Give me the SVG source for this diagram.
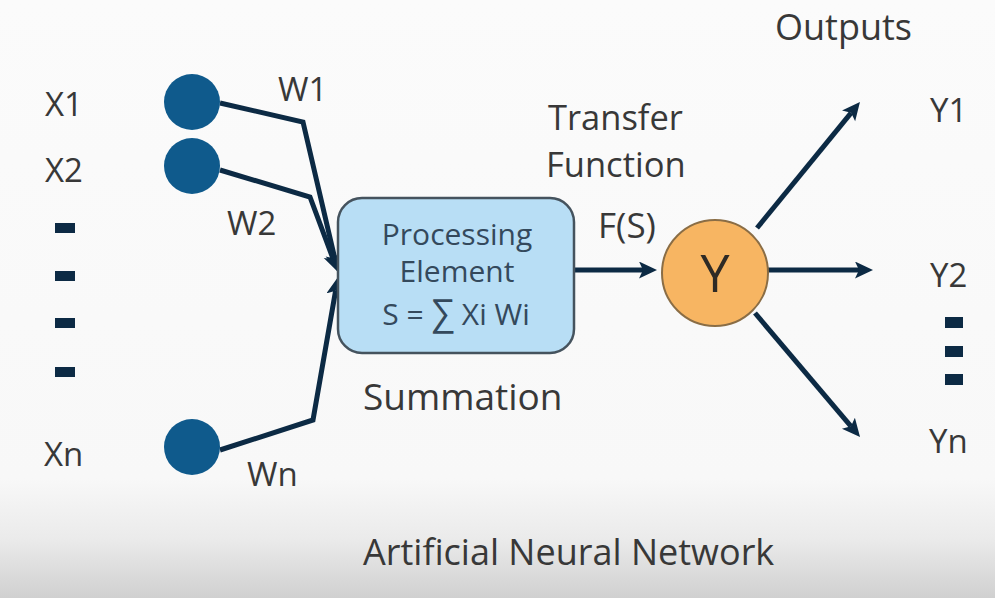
<svg xmlns="http://www.w3.org/2000/svg" width="995" height="598" viewBox="0 0 995 598">
<defs>
<linearGradient id="bg" x1="0" y1="0" x2="0" y2="1">
<stop offset="0" stop-color="#fbfbfb"/>
<stop offset="0.8" stop-color="#f8f8f8"/>
<stop offset="0.9" stop-color="#ebebeb"/>
<stop offset="1" stop-color="#d0d0d0"/>
</linearGradient>
<marker id="ah" markerUnits="userSpaceOnUse" markerWidth="20" markerHeight="18" refX="4" refY="8.5" orient="auto">
<path d="M0,0 L18,8.5 L0,17 L4,8.5 z" fill="#0c2a44"/>
</marker>
<style>
.lbl{font-family:"Open Sans","Noto Sans","Liberation Sans",sans-serif;font-size:33px;fill:#383838}
.big{font-size:35px}
.tf{font-size:34.5px}
.cap{font-size:36px}
.sum{font-size:37px}
.box{font-family:"Open Sans","Noto Sans","Liberation Sans",sans-serif;font-size:30px;fill:#34495c;text-anchor:middle}
.sig{font-size:36px}
.conn{fill:none;stroke:#0c2a44;stroke-width:5;stroke-linejoin:miter;marker-end:url(#ah)}
.in{fill:#0f5a8c}
.dash{fill:#0c2a44}
</style>
</defs>
<rect x="0" y="0" width="995" height="598" fill="url(#bg)"/>

<g id="connectors">
<path class="conn" d="M220,103 L303,122 L334.8,258.4"/>
<path class="conn" d="M220,170 L310,197 L333.1,258.9"/>
<path class="conn" d="M220,450 L313,420 L335.6,290.8"/>
<path class="conn" d="M574,270 L643,270"/>
<path class="conn" d="M757,228 L851.1,112.8"/>
<path class="conn" d="M768,270 L859,270"/>
<path class="conn" d="M755,313 L851,426.3"/>
</g>

<g id="x1"><circle class="in" cx="192" cy="102" r="28"/><text class="lbl" x="45" y="116">X1</text></g>
<g id="x2"><circle class="in" cx="192" cy="166" r="28"/><text class="lbl" x="45" y="182">X2</text></g>
<g id="xn"><circle class="in" cx="192" cy="447" r="28"/><text class="lbl" x="44" y="466">Xn</text></g>
<g id="input-dots">
<rect class="dash" x="55" y="223" width="20" height="10"/>
<rect class="dash" x="55" y="271" width="20" height="10"/>
<rect class="dash" x="55" y="318" width="20" height="10"/>
<rect class="dash" x="55" y="367" width="20" height="10"/>
</g>
<g id="weights">
<text class="lbl" x="278" y="101">W1</text>
<text class="lbl" x="227" y="235">W2</text>
<text class="lbl" x="247" y="486">Wn</text>
</g>

<g id="processing">
<rect x="338" y="198" width="236" height="155" rx="24" ry="24" fill="#b8def5" stroke="#45535e" stroke-width="2.5"/>
<text class="box" x="457" y="245">Processing</text>
<text class="box" x="457" y="282">Element</text>
<text class="box" x="456" y="325">S = <tspan class="sig">∑</tspan> Xi Wi</text>
</g>
<text class="lbl sum" x="363" y="410">Summation</text>

<g id="transfer">
<text class="lbl tf" x="548" y="130">Transfer</text>
<text class="lbl tf" x="546" y="177">Function</text>
<text class="lbl big" x="598" y="238">F(S)</text>
</g>

<g id="y">
<circle cx="715" cy="273" r="53" fill="#f7b562" stroke="#8a6d45" stroke-width="2"/>
<text x="715" y="292" text-anchor="middle" font-family="Open Sans, Noto Sans, Liberation Sans, sans-serif" font-size="52" fill="#2e2a25">Y</text>
</g>

<text class="lbl cap" x="775" y="40">Outputs</text>
<g id="y1"><text class="lbl" x="930" y="122">Y1</text></g>
<g id="y2"><text class="lbl" x="930" y="287">Y2</text></g>
<g id="yn"><text class="lbl" x="929" y="453">Yn</text></g>
<g id="output-dots">
<rect class="dash" x="945" y="317" width="18" height="11"/>
<rect class="dash" x="945" y="346" width="18" height="11"/>
<rect class="dash" x="945" y="374" width="18" height="11"/>
</g>

<text class="lbl cap" x="363" y="565">Artificial Neural Network</text>
</svg>
